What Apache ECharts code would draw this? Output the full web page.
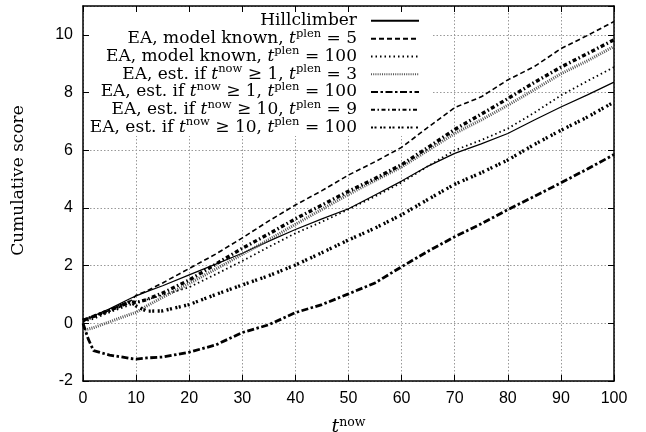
<!DOCTYPE html>
<html>
<head>
<meta charset="utf-8">
<script src="https://cdn.jsdelivr.net/npm/echarts@6/dist/echarts.min.js"></script>
<style>html,body{margin:0;padding:0;background:#fff}#c{width:646px;height:432px}</style>
</head>
<body>
<div id="c"></div>
<script>
// x positions (t^now) shared by every series
var tNow = [0, 1, 2, 5, 9, 10, 12, 15, 20, 25, 30, 35, 40, 45, 50, 55, 60, 65, 70, 75, 80, 85, 90, 95, 100];

var hillclimber   = [0.10, 0.18, 0.26, 0.50, 0.87, 0.95, 1.10, 1.30, 1.68, 2.05, 2.43, 2.85, 3.25, 3.62, 3.97, 4.45, 4.93, 5.45, 5.89, 6.22, 6.58, 7.05, 7.50, 7.92, 8.36];
var known5        = [0.10, 0.17, 0.24, 0.45, 0.78, 0.97, 1.12, 1.40, 1.90, 2.40, 2.96, 3.55, 4.10, 4.60, 5.14, 5.60, 6.10, 6.80, 7.48, 7.85, 8.44, 8.90, 9.52, 9.98, 10.46];
var known100      = [0.05, 0.10, 0.16, 0.38, 0.65, 0.72, 0.82, 0.98, 1.25, 1.70, 2.16, 2.65, 3.12, 3.52, 3.95, 4.40, 4.88, 5.45, 6.00, 6.35, 6.75, 7.30, 7.90, 8.40, 8.88];
var est1plen3     = [-0.25, -0.20, -0.15, 0.05, 0.32, 0.38, 0.60, 0.90, 1.38, 1.88, 2.39, 2.90, 3.43, 3.95, 4.47, 4.95, 5.42, 6.00, 6.58, 7.05, 7.56, 8.10, 8.65, 9.10, 9.60];
var est1plen100   = [0.00, -0.55, -0.95, -1.10, -1.22, -1.24, -1.20, -1.17, -1.00, -0.75, -0.32, -0.05, 0.37, 0.65, 1.02, 1.40, 1.96, 2.50, 3.00, 3.45, 3.94, 4.40, 4.87, 5.35, 5.85];
var est10plen9    = [0.10, 0.17, 0.24, 0.45, 0.75, 0.72, 0.82, 1.05, 1.50, 2.05, 2.60, 3.10, 3.62, 4.10, 4.58, 5.02, 5.50, 6.10, 6.72, 7.25, 7.79, 8.35, 8.88, 9.35, 9.83];
var est10plen100  = [0.10, 0.17, 0.24, 0.45, 0.75, 0.60, 0.42, 0.43, 0.65, 1.00, 1.33, 1.65, 2.02, 2.45, 2.89, 3.30, 3.76, 4.30, 4.82, 5.22, 5.66, 6.20, 6.69, 7.15, 7.67];

var xTicks = [0, 10, 20, 30, 40, 50, 60, 70, 80, 90, 100];
var yTicks = [-2, 0, 2, 4, 6, 8, 10];

var seriesNames = ['Hillclimber', 'known5', 'known100', 'est1plen3', 'est1plen100', 'est10plen9', 'est10plen100'];
var seriesLabels = {
  'Hillclimber': 'Hillclimber',
  'known5': 'EA, model known, {i|t}{s|plen}{n| = 5}',
  'known100': 'EA, model known, {i|t}{s|plen}{n| = 100}',
  'est1plen3': 'EA, est. if {i|t}{s|now}{n| ≥ 1, }{i|t}{s|plen}{n| = 3}',
  'est1plen100': 'EA, est. if {i|t}{s|now}{n| ≥ 1, }{i|t}{s|plen}{n| = 100}',
  'est10plen9': 'EA, est. if {i|t}{s|now}{n| ≥ 10, }{i|t}{s|plen}{n| = 9}',
  'est10plen100': 'EA, est. if {i|t}{s|now}{n| ≥ 10, }{i|t}{s|plen}{n| = 100}'
};
var seriesValues = [hillclimber, known5, known100, est1plen3, est1plen100, est10plen9, est10plen100];
var styles = [
  {width: 1.2, type: 'solid', color: '#000'},
  {width: 1.6, type: [5, 3], color: '#000'},
  {width: 1.8, type: [1.5, 3], color: '#000'},
  {width: 3, type: [1, 1.2], color: '#555'},
  {width: 2.8, type: [7, 2.5, 2.5, 2.5], color: '#000'},
  {width: 3.4, type: [4, 2.5, 1.5, 2.5], color: '#000'},
  {width: 3.4, type: [2, 1.5, 2, 3.5], color: '#000'}
];

function pairs(xs, ys) { return xs.map(function (x, i) { return [x, ys[i]]; }); }

var serif = 'DejaVu Serif';
var sans = 'Liberation Sans';
var richStyles = {
  i: {fontFamily: serif, fontStyle: 'italic', fontSize: 17, lineHeight: 22, color: '#000'},
  s: {fontFamily: serif, fontSize: 11.5, lineHeight: 12, verticalAlign: 'top', color: '#000'},
  n: {fontFamily: serif, fontSize: 17, lineHeight: 22, color: '#000'}
};

var legendCenters = [20.7, 38.7, 56.5, 74.2, 92, 109.7, 127.4];
var legends = seriesNames.map(function (nm, k) {
  return {
    data: [nm],
    orient: 'vertical',
    right: 226,
    top: legendCenters[k] - 11,
    align: 'right',
    padding: 0,
    itemWidth: 48,
    itemHeight: 14,
    itemGap: 0,
    selectedMode: false,
    itemStyle: {color: 'rgba(0,0,0,0)', borderColor: 'rgba(0,0,0,0)', borderWidth: 0, opacity: 0},
    formatter: function (name) { return seriesLabels[name]; },
    textStyle: {fontFamily: serif, fontSize: 17, lineHeight: 22, color: '#000', padding: [0, 9, 0, 0], rich: richStyles}
  };
});

var tickStyle = {show: true, inside: true, length: 6, lineStyle: {color: '#000', width: 1}};
var lineStyleAxis = {show: true, onZero: false, lineStyle: {color: '#000', width: 1.5}};
var splitStyle = {show: true, lineStyle: {color: '#999', width: 1, type: [1.5, 2]}};

var option = {
  backgroundColor: '#fff',
  animation: false,
  grid: {left: 83, right: 32, top: 6, bottom: 51, containLabel: false, outerBoundsMode: 'none'},
  legend: legends,
  graphic: [{
    type: 'rect', z: 1, silent: true,
    shape: {x: 90, y: 13, width: 342, height: 123},
    style: {fill: '#fff'}
  }],
  xAxis: [{
    type: 'value', min: 0, max: 100, interval: 10,
    axisLine: lineStyleAxis, axisTick: tickStyle, splitLine: splitStyle,
    axisLabel: {fontFamily: sans, fontSize: 16, color: '#000', margin: 10},
    name: '{i|t}{s|now}', nameLocation: 'middle', nameGap: 35,
    nameTextStyle: {rich: {
      i: {fontFamily: serif, fontStyle: 'italic', fontSize: 19, lineHeight: 22, color: '#000'},
      s: {fontFamily: serif, fontSize: 12.5, lineHeight: 12, verticalAlign: 'top', color: '#000'}
    }}
  }, {
    type: 'value', min: 0, max: 100, interval: 10, position: 'top',
    axisLine: lineStyleAxis, axisTick: tickStyle, splitLine: {show: false}, axisLabel: {show: false}
  }],
  yAxis: [{
    type: 'value', min: -2, max: 11, interval: 2,
    axisLine: lineStyleAxis, axisTick: tickStyle, splitLine: splitStyle,
    axisLabel: {fontFamily: sans, fontSize: 16, color: '#000', margin: 10, showMaxLabel: false,
      formatter: function (v) { return yTicks.indexOf(v) >= 0 ? String(v) : ''; }},
    name: 'Cumulative score', nameLocation: 'middle', nameGap: 56,
    nameTextStyle: {fontFamily: serif, fontSize: 17, color: '#000', padding: [0, 0, 0, 26]}
  }, {
    type: 'value', min: -2, max: 11, interval: 2, position: 'right',
    axisLine: lineStyleAxis, axisTick: tickStyle, splitLine: {show: false}, axisLabel: {show: false}
  }],
  series: seriesNames.map(function (nm, k) {
    return {
      name: nm, type: 'line', symbol: 'none', smooth: false,
      xAxisIndex: 0, yAxisIndex: 0,
      data: pairs(tNow, seriesValues[k]),
      lineStyle: styles[k], itemStyle: {color: styles[k].color},
      z: 3
    };
  })
};

var chart = echarts.init(document.getElementById('c'), null, {renderer: 'canvas'});
chart.setOption(option);
</script>
</body>
</html>
